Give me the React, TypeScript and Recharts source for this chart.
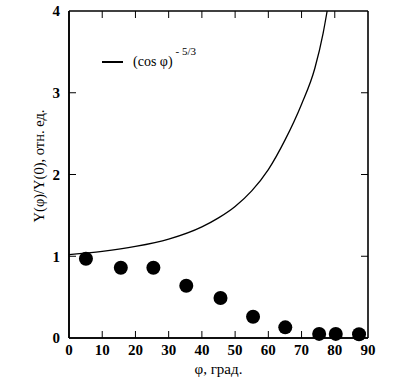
import React from 'react'
import {
  ComposedChart,
  Line,
  XAxis,
  YAxis,
  Legend,
  ReferenceLine,
} from 'recharts'

// curve (cos φ)^-5/3
const curvePhi = [0, 10, 20, 30, 40, 45, 50, 55, 60, 65, 70, 74, 76.5, 77.7]
const curveValues = [1.02, 1.06, 1.12, 1.21, 1.36, 1.47, 1.61, 1.8, 2.06, 2.42, 2.86, 3.3, 3.73, 4.0]

// measured points
const pointPhi = [5.1, 15.6, 25.4, 35.3, 45.6, 55.4, 65.1, 75.3, 80.3, 87.3]
const pointValues = [0.97, 0.86, 0.86, 0.64, 0.49, 0.26, 0.13, 0.05, 0.05, 0.045]

const xTicks = [0, 10, 20, 30, 40, 50, 60, 70, 80, 90]
const yTicks = [0, 1, 2, 3, 4]

const curveData = curvePhi.map((phi, i) => ({ phi, y: curveValues[i] }))
const pointData = pointPhi.map((phi, i) => ({ phi, y: pointValues[i] }))

const W = 406
const H = 379
const PLOT_W = 299
const PLOT_H = 327
const X_MAX = 90
const Y_MAX = 4
// inward tick length (7px) expressed in data units
const TICK_DX = (7 / PLOT_W) * X_MAX
const TICK_DY = (7 / PLOT_H) * Y_MAX

const serif = 'Liberation Serif'
const tickStyle = { fill: '#000', fontSize: 15, fontWeight: 700, fontFamily: serif }

const LegendBox = () => (
  <div
    style={{
      display: 'flex',
      alignItems: 'center',
      fontFamily: serif,
      fontSize: 14,
      lineHeight: '16px',
      color: '#000',
      whiteSpace: 'nowrap',
    }}
  >
    <span style={{ width: 21, height: 0, borderTop: '2px solid #000', marginRight: 10 }} />
    <span>
      (cos φ)
      <span style={{ fontSize: 11, position: 'relative', top: -11, marginLeft: 3 }}>- 5/3</span>
    </span>
  </div>
)

const App: React.FC = () => {
  return (
    <div style={{ position: 'absolute', left: 0, top: 0 }}>
      <ComposedChart
        width={W}
        height={H}
        margin={{ top: 11, right: 38, bottom: 11, left: 39 }}
      >
        <XAxis
          dataKey="phi"
          type="number"
          domain={[0, X_MAX]}
          ticks={xTicks}
          interval={0}
          stroke="#000"
          strokeWidth={1.5}
          tickLine={false}
          tickMargin={0}
          tick={tickStyle}
          height={30}
          label={({ viewBox }: any) => (
            <text
              x={viewBox.x + viewBox.width / 2}
              y={374}
              textAnchor="middle"
              fontFamily={serif}
              fontSize={15}
              fill="#000"
            >
              φ, град.
            </text>
          )}
        />
        <YAxis
          type="number"
          domain={[0, Y_MAX]}
          ticks={yTicks}
          interval={0}
          width={30}
          stroke="#000"
          strokeWidth={1.5}
          tickLine={false}
          tickMargin={3}
          tick={tickStyle}
          label={() => (
            <text
              x={39}
              y={166}
              transform="rotate(-90, 39, 166)"
              textAnchor="middle"
              dominantBaseline="central"
              fontFamily={serif}
              fontSize={14.5}
              fill="#000"
            >
              Y(φ)/Y(0), отн. ед.
            </text>
          )}
        />

        {/* frame */}
        <ReferenceLine x={0} stroke="#000" strokeWidth={1.6} />
        <ReferenceLine x={X_MAX} stroke="#000" strokeWidth={1.6} />
        <ReferenceLine y={0} stroke="#000" strokeWidth={1.6} />
        <ReferenceLine y={Y_MAX} stroke="#000" strokeWidth={1.6} />

        {/* inward ticks on all four sides */}
        {xTicks.slice(1, -1).map((v) => (
          <ReferenceLine
            key={`xb${v}`}
            segment={[{ x: v, y: 0 }, { x: v, y: TICK_DY }]}
            stroke="#000"
            strokeWidth={1}
          />
        ))}
        {xTicks.slice(1, -1).map((v) => (
          <ReferenceLine
            key={`xt${v}`}
            segment={[{ x: v, y: Y_MAX }, { x: v, y: Y_MAX - TICK_DY }]}
            stroke="#000"
            strokeWidth={1}
          />
        ))}
        {yTicks.slice(1, -1).map((v) => (
          <ReferenceLine
            key={`yl${v}`}
            segment={[{ x: 0, y: v }, { x: TICK_DX, y: v }]}
            stroke="#000"
            strokeWidth={1}
          />
        ))}
        {yTicks.slice(1, -1).map((v) => (
          <ReferenceLine
            key={`yr${v}`}
            segment={[{ x: X_MAX, y: v }, { x: X_MAX - TICK_DX, y: v }]}
            stroke="#000"
            strokeWidth={1}
          />
        ))}

        <Legend
          layout="vertical"
          align="center"
          verticalAlign="middle"
          wrapperStyle={{ left: 102, top: 54, width: 'auto' }}
          content={() => <LegendBox />}
        />
        <Line
          data={curveData}
          dataKey="y"
          type="monotone"
          stroke="#000"
          strokeWidth={1.3}
          dot={false}
          activeDot={false}
          isAnimationActive={false}
        />
        <Line
          data={pointData}
          dataKey="y"
          stroke="none"
          activeDot={false}
          dot={(p: any) => <circle key={`pt${p.index}`} cx={p.cx} cy={p.cy} r={7} fill="#000" />}
          isAnimationActive={false}
        />
      </ComposedChart>
    </div>
  )
}

export default App
